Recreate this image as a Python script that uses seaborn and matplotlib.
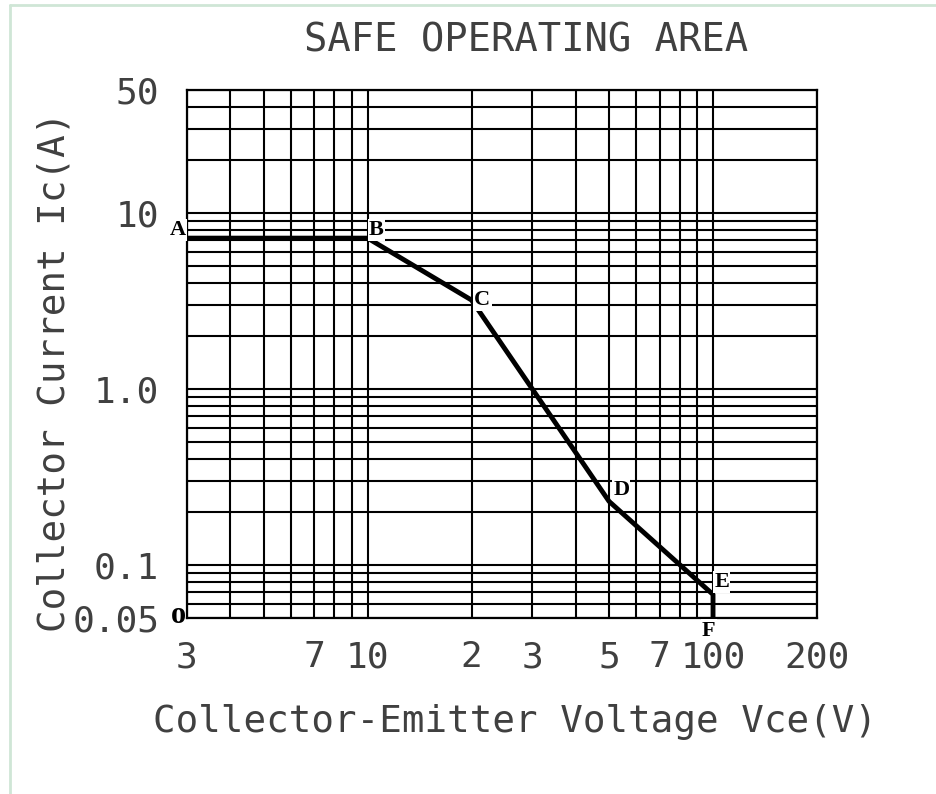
import numpy as np
import pandas as pd
import matplotlib
matplotlib.use("Agg")
import matplotlib.pyplot as plt
from matplotlib.ticker import LogLocator, NullFormatter, FixedLocator, FixedFormatter
from matplotlib.lines import Line2D
import seaborn as sns

# SOA boundary points (Vce in V, Ic in A)
point_names = ["A", "B", "C", "D", "E", "F"]
vce = [3, 10, 20, 50, 100, 100]
ic = [7.2, 7.2, 3.2, 0.23, 0.068, 0.05]

x_tick_values = [3, 7, 10, 20, 30, 50, 70, 100, 200]
x_tick_labels = ["3", "7", "10", "2", "3", "5", "7", "100", "200"]
y_tick_values = [0.05, 0.1, 1.0, 10, 50]
y_tick_labels = ["0.05", "0.1", "1.0", "10", "50"]

# label offsets in points (dx, dy) and alignment per point
label_offsets = {"A": (-1, 6, "right"), "B": (1, 6, "left"), "C": (2, 0, "left"),
                 "D": (3, 8, "left"), "E": (1, 9, "left"), "F": (-3, -9, "center")}

df = pd.DataFrame({"Vce": vce, "Ic": ic, "name": point_names})

sns.set_style("white")
plt.rcParams["font.family"] = ["DejaVu Sans Mono", "DejaVu Sans"]
text_col = "#404040"

fig = plt.figure(figsize=(9.36, 7.94), dpi=100)
ax = fig.add_axes([187 / 936, 1 - 618 / 794, 630 / 936, 528 / 794])

ax.set_xscale("log")
ax.set_yscale("log")
ax.set_xlim(3, 200)
ax.set_ylim(0.05, 50)

ax.xaxis.set_major_locator(FixedLocator(x_tick_values))
ax.xaxis.set_major_formatter(FixedFormatter(x_tick_labels))
ax.yaxis.set_major_locator(FixedLocator(y_tick_values))
ax.yaxis.set_major_formatter(FixedFormatter(y_tick_labels))
ax.xaxis.set_minor_locator(LogLocator(base=10, subs=np.arange(2, 10)))
ax.yaxis.set_minor_locator(LogLocator(base=10, subs=np.arange(2, 10)))
ax.xaxis.set_minor_formatter(NullFormatter())
ax.yaxis.set_minor_formatter(NullFormatter())

ax.grid(which="both", color="black", linewidth=1.5)
ax.set_axisbelow(True)
ax.tick_params(which="both", length=0)
ax.tick_params(axis="x", pad=16, labelsize=26, labelcolor=text_col)
ax.tick_params(axis="y", pad=20, labelsize=26, labelcolor=text_col)
for s in ax.spines.values():
    s.set_color("black")
    s.set_linewidth(1.6)

sns.lineplot(data=df, x="Vce", y="Ic", sort=False, estimator=None,
             color="black", linewidth=3.5, ax=ax, zorder=5)
ax.set_xlabel("")
ax.set_ylabel("")

for _, row in df.iterrows():
    dx, dy, ha = label_offsets[row["name"]]
    ax.annotate(row["name"], (row["Vce"], row["Ic"]), xytext=(dx, dy),
                textcoords="offset points", ha=ha, va="center",
                family="Liberation Serif", weight="bold", fontsize=16,
                color="black", zorder=6, annotation_clip=False,
                bbox=dict(boxstyle="square,pad=0.05", fc="white", ec="none"))

# origin marker
ax.annotate("o", (3, 0.05), xytext=(-1, 2), textcoords="offset points",
            ha="right", va="center", family="Liberation Serif", weight="bold",
            fontsize=22, color="black", annotation_clip=False)

fig.text(526 / 936, 1 - 40 / 794, "SAFE OPERATING AREA", ha="center", va="center",
         fontsize=28, color=text_col)
fig.text(515 / 936, 1 - 722 / 794, "Collector-Emitter Voltage Vce(V)", ha="center",
         va="center", fontsize=27, color=text_col)
fig.text(55 / 936, 1 - 372 / 794, "Collector Current Ic(A)", ha="center",
         va="center", rotation=90, fontsize=27, color=text_col)

# faint page frame seen at the left and top edges
fig.add_artist(Line2D([10 / 936, 10 / 936], [0, 1 - 5 / 794], color="#cfe6d6", lw=2))
fig.add_artist(Line2D([10 / 936, 1], [1 - 5 / 794, 1 - 5 / 794], color="#cfe6d6", lw=2))

fig.savefig("out.png", dpi=100)
